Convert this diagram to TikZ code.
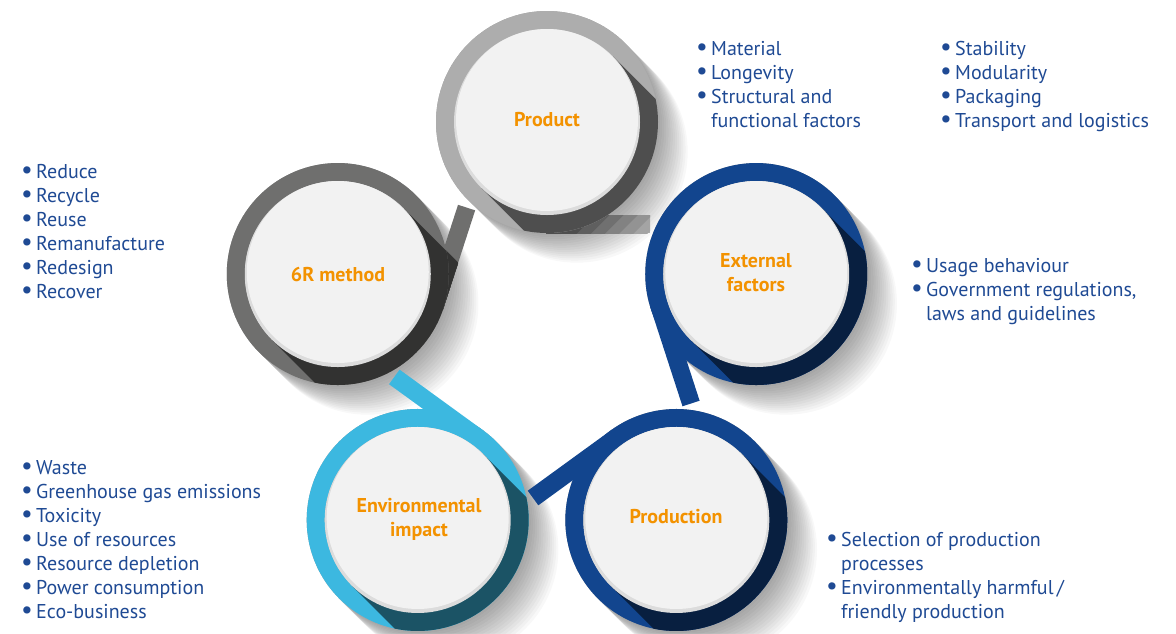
\documentclass[tikz,border=0pt]{standalone}
\usepackage{fontspec}
\setmainfont{PT Sans}
\usetikzlibrary{calc}
\definecolor{cLG}{HTML}{ADADAD}
\definecolor{cDG}{HTML}{6F6F6E}
\definecolor{cBL}{HTML}{12458E}
\definecolor{cLB}{HTML}{3CB8E0}
\definecolor{cIn}{HTML}{F2F2F2}
\definecolor{cRim}{HTML}{DCDCDC}
\definecolor{cTxt}{HTML}{1F4A94}
\definecolor{cOr}{HTML}{F39200}
\newcommand\rsbul{\makebox[15pt][l]{\raisebox{-0.6pt}{\scalebox{1.3}{\textbullet}}}}
\newcommand\rsshadow[1]{%
  \begin{scope}[shift={(#1)},rotate=-45]
    \foreach \L in {3,6,...,42}
      \fill[black,opacity=0.026] (0,-111) -- (\L,-111)
        arc[start angle=-90,end angle=90,radius=111] -- (0,111)
        arc[start angle=90,end angle=270,radius=111] -- cycle;
  \end{scope}}
\newcommand\rsunit[3]{%
  \begin{scope}[shift={(#1)}]
    \begin{scope}[rotate=#2]
      \fill[#3] (-1,-93) -- (103,-93) -- (103,-111) -- (-1,-111) -- cycle;
      \begin{scope}
        \clip (-1,-93) -- (103,-93) -- (103,-111) -- (-1,-111) -- cycle;
        \begin{scope}[rotate={-45-(#2)}]
          \foreach \L/\p in {150/95,140/85,130/75,120/65,110/55,100/45}
            \fill[#3!\p!black] (0,-93) -- (\L,-93) -- (\L,93) -- (0,93) -- cycle;
        \end{scope}
      \end{scope}
    \end{scope}
    \draw[#3, line width=18pt] (0,0) circle[radius=102];
    \begin{scope}
      \clip (0,0) circle[radius=111];
      \fill[#3!45!black, rotate=-45] (0,-93) -- (115,-93) -- (115,93) -- (0,93) -- cycle;
    \end{scope}
    \fill[cRim] (0,0) circle[radius=93];
    \fill[cIn] (0,2) circle[radius=91];
  \end{scope}}
\tikzset{
  lab/.style={font=\fontsize{20}{24}\selectfont\bfseries, text=cOr, inner sep=0pt, anchor=base},
  lst/.style={font=\fontsize{20}{24}\selectfont, text=cTxt, inner sep=0pt, anchor=base west}
}
\begin{document}
\begin{tikzpicture}[x=1pt,y=1pt]
\fill[white] (0,-633) rectangle (1176,0);
\useasboundingbox (0,-633) rectangle (1176,0);
\coordinate (O) at (547,-342);
\path (O) ++(90:220) coordinate (cP);
\path (O) ++(18:220) coordinate (cE);
\path (O) ++(-54:220) coordinate (cR);
\path (O) ++(-126:220) coordinate (cV);
\path (O) ++(162:220) coordinate (cS);
% soft shadows
\rsshadow{cP}\rsshadow{cE}\rsshadow{cR}\rsshadow{cV}\rsshadow{cS}
% rings
\rsunit{cS}{-288}{cDG}
\rsunit{cP}{0}{cLG}
\rsunit{cE}{-72}{cBL}
\rsunit{cR}{-144}{cBL}
\rsunit{cV}{-216}{cLB}
% labels
\node[lab] (lP) at (547,-126) {Product};
\node[lab] (lS) at (338,-281) {6R method};
\node[lab] (lE) at (756,-267) {\begin{tabular}[t]{@{}c@{}}External\\factors\end{tabular}};
\node[lab] (lR) at (676,-523) {Production};
\node[lab] (lV) at (419,-512) {\begin{tabular}[t]{@{}c@{}}Environmental\\impact\end{tabular}};
% lists
\node[lst] (tP1) at (696,-55) {\begin{tabular}[t]{@{}l@{}l@{}}
\rsbul & Material\\ \rsbul & Longevity\\ \rsbul & Structural and\\ & functional factors\end{tabular}};
\node[lst] (tP2) at (940,-55) {\begin{tabular}[t]{@{}l@{}l@{}}
\rsbul & Stability\\ \rsbul & Modularity\\ \rsbul & Packaging\\ \rsbul & Transport and logistics\end{tabular}};
\node[lst] (tS) at (21,-178) {\begin{tabular}[t]{@{}l@{}l@{}}
\rsbul & Reduce\\ \rsbul & Recycle\\ \rsbul & Reuse\\ \rsbul & Remanufacture\\ \rsbul & Redesign\\ \rsbul & Recover\end{tabular}};
\node[lst] (tE) at (911,-272) {\begin{tabular}[t]{@{}l@{}l@{}}
\rsbul & Usage behaviour\\ \rsbul & Government regulations,\\ & laws and guidelines\end{tabular}};
\node[lst] (tV) at (21,-474) {\begin{tabular}[t]{@{}l@{}l@{}}
\rsbul & Waste\\ \rsbul & Greenhouse gas emissions\\ \rsbul & Toxicity\\ \rsbul & Use of resources\\ \rsbul & Resource depletion\\ \rsbul & Power consumption\\ \rsbul & Eco-business\end{tabular}};
\node[lst] (tR) at (826,-546) {\begin{tabular}[t]{@{}l@{}l@{}}
\rsbul & Selection of production\\ & processes\\ \rsbul & Environmentally harmful\,/\\ & friendly production\end{tabular}};
\end{tikzpicture}
\end{document}
